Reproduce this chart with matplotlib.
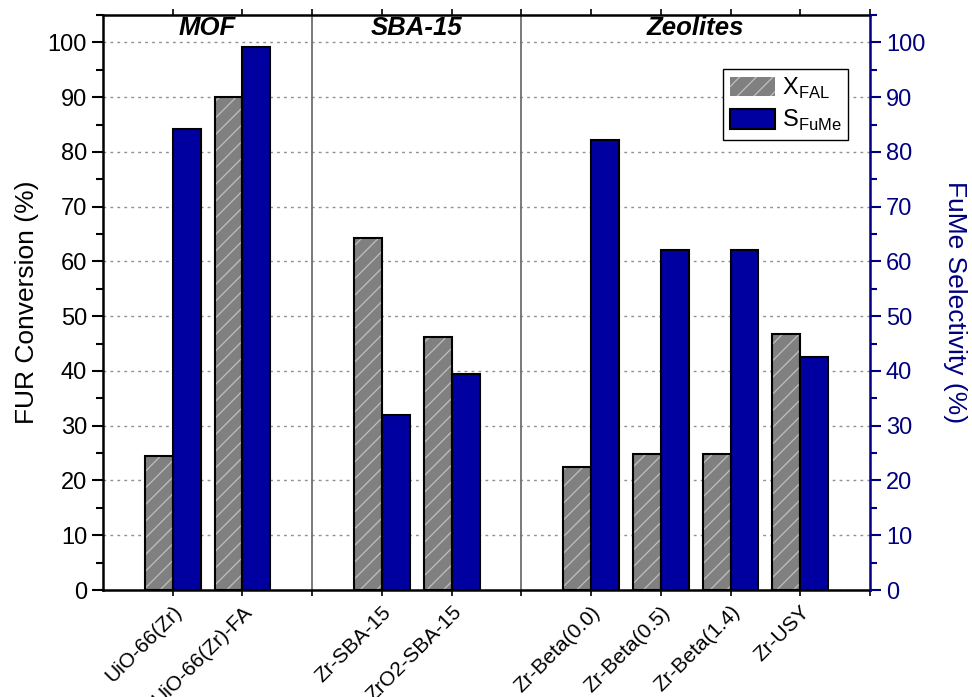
import matplotlib
matplotlib.use("Agg")
import matplotlib.pyplot as plt
from matplotlib.ticker import MultipleLocator
from matplotlib.patches import Patch

plt.rcParams['font.family'] = ['Liberation Sans', 'DejaVu Sans']
plt.rcParams['mathtext.fontset'] = 'custom'
plt.rcParams['mathtext.rm'] = 'Liberation Sans'
plt.rcParams['hatch.linewidth'] = 0.9

categories = ["UiO-66(Zr)", "UiO-66(Zr)-FA", "Zr-SBA-15", "ZrO2-SBA-15",
              "Zr-Beta(0.0)", "Zr-Beta(0.5)", "Zr-Beta(1.4)", "Zr-USY"]
positions = [1, 2, 4, 5, 7, 8, 9, 10]
x_fal = [24.5, 90.0, 64.3, 46.2, 22.5, 24.9, 24.9, 46.7]
s_fume = [84.1, 99.2, 31.9, 39.4, 82.2, 62.1, 62.1, 42.6]
groups = ["MOF", "SBA-15", "Zeolites"]
group_centers = [1.5, 4.5, 8.5]
separators = [3, 6]

grey = "#808080"
navy = "#0000A0"
axis_navy = "#000080"

fig = plt.figure(figsize=(9.72, 6.97), dpi=100)
ax = fig.add_axes([0.106, 0.1535, 0.789, 0.825])
w = 0.4

gx = [p - w / 2 for p in positions]
bx = [p + w / 2 for p in positions]
ax.bar(gx, x_fal, width=w, color=grey, edgecolor="#c0c0c0", hatch="//",
       linewidth=0, zorder=3)
ax.bar(gx, x_fal, width=w, fill=False, edgecolor="black", linewidth=1.5, zorder=4)
ax.bar(bx, s_fume, width=w, color=navy, edgecolor="black", linewidth=1.5, zorder=4)

for s in separators:
    ax.axvline(s, color="#707070", linewidth=1.3, zorder=2)

ax.set_xlim(0, 11)
ax.set_ylim(0, 105)
ax.yaxis.set_major_locator(MultipleLocator(10))
ax.yaxis.set_minor_locator(MultipleLocator(5))
ax.set_xticks(positions)
ax.set_xticklabels(categories, rotation=45, ha="right", rotation_mode="anchor",
                   fontsize=15)
ax.set_xticks([3, 6, 11], minor=True)
ax.tick_params(axis="x", which="both", direction="out", length=4, width=1.2,
               top=True, pad=5)
ax.tick_params(axis="y", which="major", direction="out", length=8, width=1.5,
               labelsize=17)
ax.tick_params(axis="y", which="minor", direction="out", length=5, width=1.5)
ax.grid(axis="y", which="major", linestyle=(0, (2, 3)), color="#909090",
        linewidth=1, zorder=0)
ax.set_axisbelow(True)
for sp in ["left", "top", "bottom"]:
    ax.spines[sp].set_linewidth(1.8)
ax.spines["right"].set_visible(False)
ax.set_ylabel("FUR Conversion (%)", fontsize=19, labelpad=6)

for g, c in zip(groups, group_centers):
    ax.text(c, 102.7, g, ha="center", va="center", fontsize=18.5,
            fontweight="bold", fontstyle="italic")

ax2 = ax.twinx()
ax2.set_ylim(0, 105)
ax2.yaxis.set_major_locator(MultipleLocator(10))
ax2.yaxis.set_minor_locator(MultipleLocator(5))
ax2.tick_params(axis="y", which="major", direction="out", length=8, width=1.5,
                labelsize=17, colors=axis_navy)
ax2.tick_params(axis="y", which="minor", direction="out", length=5, width=1.5,
                colors=axis_navy)
for sp in ["left", "top", "bottom"]:
    ax2.spines[sp].set_visible(False)
ax2.spines["right"].set_color(axis_navy)
ax2.spines["right"].set_linewidth(1.8)
ax2.set_ylabel("FuMe Selectivity (%)", fontsize=19, color=axis_navy,
               rotation=270, labelpad=30)

handles = [Patch(facecolor=grey, edgecolor="#c0c0c0", hatch="//", linewidth=0),
           Patch(facecolor=navy, edgecolor="black", linewidth=1.5)]
leg = ax.legend(handles, [r"X$_\mathregular{FAL}$", r"S$_\mathregular{FuMe}$"],
                loc="upper right", bbox_to_anchor=(0.978, 0.915), fontsize=17,
                frameon=True, fancybox=False, framealpha=1, edgecolor="black",
                handlelength=1.9, handleheight=0.9, borderpad=0.3,
                labelspacing=0.3, handletextpad=0.3, borderaxespad=0.2)
leg.get_frame().set_linewidth(1)
leg.set_zorder(10)

fig.savefig("out.png", dpi=100)
